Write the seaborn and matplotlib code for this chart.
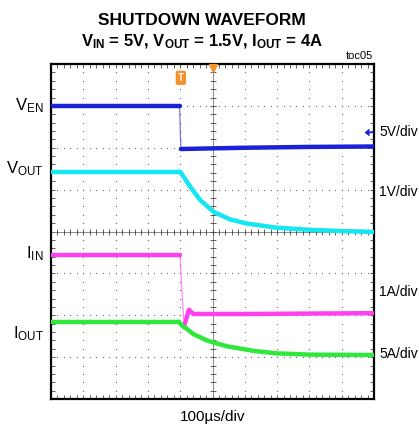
import numpy as np
import pandas as pd
import matplotlib
matplotlib.use("Agg")
import matplotlib.pyplot as plt
import seaborn as sns
from matplotlib.ticker import MultipleLocator, NullLocator

# Scope traces in divisions (x: 0-10 div, y: 0-8 div)
ven_t = [0.0, 3.98, 4.02, 6.0, 8.0, 10.0]
ven_v = [7.0, 7.0, 5.97, 6.0, 6.02, 6.03]

vout_t = [0.0, 4.0, 4.31, 4.62, 5.03, 5.54, 6.06, 6.99, 8.02, 9.0, 10.0]
vout_v = [5.43, 5.43, 5.07, 4.75, 4.47, 4.29, 4.19, 4.09, 4.04, 4.01, 3.99]

iin_t = [0.0, 3.99, 4.12, 4.27, 4.41, 6.0, 8.0, 10.0]
iin_v = [3.45, 3.45, 1.74, 2.13, 2.03, 2.03, 2.04, 2.05]

iout_t = [0.0, 3.95, 4.09, 4.2, 4.41, 4.82, 5.03, 5.44, 6.26, 6.99, 8.0, 10.0]
iout_v = [1.85, 1.85, 1.73, 1.68, 1.55, 1.40, 1.35, 1.26, 1.15, 1.09, 1.06, 1.05]

left_labels = [r"V$_{\mathrm{EN}}$", r"V$_{\mathrm{OUT}}$", r"I$_{\mathrm{IN}}$", r"I$_{\mathrm{OUT}}$"]
scale_labels = ["5V/div", "1V/div", "1A/div", "5A/div"]

W, H = 419, 428


def px(x, y):
    return x / W, 1 - y / H


sns.set_style("white")
plt.rcParams["font.family"] = ["Liberation Sans", "DejaVu Sans"]
plt.rcParams["text.color"] = "black"
plt.rcParams["mathtext.fontset"] = "custom"
plt.rcParams["mathtext.rm"] = "Liberation Sans"
plt.rcParams["mathtext.bf"] = "Liberation Sans:bold"
plt.rcParams["mathtext.it"] = "Liberation Sans:italic"

fig = plt.figure(figsize=(W / 100, H / 100), dpi=100)
ax = fig.add_axes([51 / W, 1 - 399 / H, 323 / W, 335 / H])
ax.set_xlim(0, 10)
ax.set_ylim(0, 8)

# dotted graticule
gx, gy = [], []
for i in range(1, 10):
    for j in np.arange(0, 8.01, 0.2):
        gx.append(i); gy.append(j)
for j in range(1, 8):
    for i in np.arange(0, 10.01, 0.2):
        gx.append(i); gy.append(j)
ax.scatter(gx, gy, s=0.8, color="#666666", linewidths=0, zorder=1)

# center cross with ticks
ax.axhline(4, color="#777777", lw=0.6, zorder=1)
ax.axvline(5, color="#777777", lw=0.6, zorder=1)
ticks = np.arange(0, 10.01, 0.2)
ax.plot(ticks, [4] * len(ticks), ls="none", marker="|", ms=4, mew=0.6, color="#444444", zorder=1)
ticks = np.arange(0, 8.01, 0.2)
ax.plot([5] * len(ticks), ticks, ls="none", marker="_", ms=4, mew=0.6, color="#444444", zorder=1)


def trace(t, v, color, edge):
    """thick band for the trace, thin line on the fast edge"""
    df = pd.DataFrame({"t": t, "v": v})
    a, b = edge
    kw = dict(x="t", y="v", color=color, sort=False, estimator=None, ax=ax, zorder=3)
    sns.lineplot(data=df.iloc[: a + 1], lw=3.2, solid_joinstyle="round", **kw)
    sns.lineplot(data=df.iloc[a: b + 1], lw=0.9, alpha=0.6, **kw)
    sns.lineplot(data=df.iloc[b:], lw=3.2, solid_joinstyle="round", **kw)


trace(ven_t, ven_v, "#1a22d8", (1, 2))
trace(vout_t, vout_v, "#14e6f2", (1, 1))
trace(iin_t, iin_v, "#ff40f0", (1, 2))
trace(iout_t, iout_v, "#30e83c", (1, 1))

# frame
for s in ax.spines.values():
    s.set_color("black")
    s.set_linewidth(1.6)
ax.xaxis.set_major_locator(NullLocator())
ax.yaxis.set_major_locator(NullLocator())
ax.xaxis.set_minor_locator(MultipleLocator(0.2))
ax.yaxis.set_minor_locator(MultipleLocator(0.2))
ax.tick_params(which="minor", direction="in", length=3, width=0.6, color="#444444",
               top=True, bottom=True, left=True, right=True,
               labelbottom=False, labelleft=False)
ax.set_xlabel("")
ax.set_ylabel("")

# trigger and level markers
ax.text(4.02, 7.67, "T", ha="center", va="center", fontsize=7, fontweight="bold", color="white",
        bbox=dict(boxstyle="round,pad=0.15", fc="#f5912a", ec="#f5912a"), zorder=5)
ax.plot([5.0], [7.9], marker="v", ms=6, color="#f5912a", clip_on=False, zorder=5)
ax.plot([9.86], [6.37], marker=8, ms=4, color="#1a22d8", zorder=5)
ax.plot([9.86, 9.96], [6.37, 6.37], color="#1a22d8", lw=1, zorder=5)

# texts
fig.text(*px(202, 25), "SHUTDOWN WAVEFORM", ha="center", va="baseline",
         fontsize=12.5, fontweight="bold")
fig.text(*px(202, 46),
         r"V$_{\mathbf{IN}}$ = 5V, V$_{\mathbf{OUT}}$ = 1.5V, I$_{\mathbf{OUT}}$ = 4A",
         ha="center", va="baseline", fontsize=12, fontweight="bold")
fig.text(*px(373, 59), "toc05", ha="right", va="baseline", fontsize=8)
fig.text(*px(213, 421), "100µs/div", ha="center", va="baseline", fontsize=11)

for lab, y in zip(left_labels, [110, 173, 258, 338]):
    fig.text(*px(44, y), lab, ha="right", va="baseline", fontsize=12)
for lab, y in zip(scale_labels, [136, 196, 296, 358]):
    fig.text(*px(379, y), lab, ha="left", va="baseline", fontsize=10)

fig.savefig("out.png", dpi=100)
